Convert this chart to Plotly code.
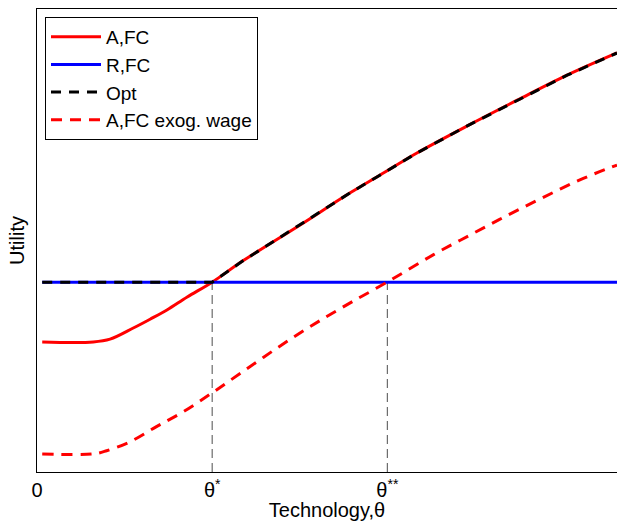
import plotly.graph_objects as go

# --- data ---
theta_star = 3.02
theta_2star = 6.04
r_fc_level = 4.10

afc_x = [0.09, 0.97, 1.26, 1.66, 1.95, 2.24, 2.59, 3.02, 3.55, 4.53, 5.40, 5.91, 6.55, 7.41, 8.28, 9.14, 10.0]
afc_y = [2.81, 2.81, 2.87, 3.11, 3.30, 3.50, 3.78, 4.10, 4.56, 5.33, 6.03, 6.41, 6.89, 7.47, 8.03, 8.57, 9.05]

rfc_x = [0.09, 10.0]
rfc_y = [r_fc_level, r_fc_level]

opt_x = [0.09, 3.02, 3.55, 4.53, 5.40, 5.91, 6.55, 7.41, 8.28, 9.14, 10.0]
opt_y = [4.10, 4.10, 4.56, 5.33, 6.03, 6.41, 6.89, 7.47, 8.03, 8.57, 9.05]

exo_x = [0.09, 0.97, 1.20, 1.60, 2.06, 2.52, 3.02, 3.55, 4.13, 4.71, 5.34, 6.05, 6.83, 7.47, 8.09, 8.71, 9.36, 10.0]
exo_y = [0.39, 0.39, 0.46, 0.65, 0.98, 1.30, 1.71, 2.17, 2.67, 3.14, 3.61, 4.11, 4.69, 5.12, 5.53, 5.92, 6.31, 6.63]

tick_vals = [0, theta_star, theta_2star]
tick_text = ["0", "θ<sup>*</sup>", "θ<sup>**</sup>"]

FONT = "Liberation Sans, Arial, Helvetica, sans-serif"

fig = go.Figure()

# guide lines at theta* and theta**
for tx in (theta_star, theta_2star):
    fig.add_trace(go.Scatter(x=[tx, tx], y=[0, r_fc_level], mode="lines",
                             line=dict(color="#4d4d4d", width=1, dash="9px,5px"),
                             showlegend=False, hoverinfo="skip"))

fig.add_trace(go.Scatter(x=afc_x, y=afc_y, mode="lines", name="A,FC",
                         line=dict(color="#ff0000", width=3, shape="spline", smoothing=1.0)))
fig.add_trace(go.Scatter(x=rfc_x, y=rfc_y, mode="lines", name="R,FC",
                         line=dict(color="#0000ff", width=3)))
fig.add_trace(go.Scatter(x=opt_x, y=opt_y, mode="lines", name="Opt",
                         line=dict(color="#000000", width=3, dash="10px,8px")))
fig.add_trace(go.Scatter(x=exo_x, y=exo_y, mode="lines", name="A,FC exog. wage",
                         line=dict(color="#ff0000", width=3, dash="11px,8px",
                                   shape="spline", smoothing=1.0)))

fig.update_layout(
    width=617, height=521,
    margin=dict(l=37, r=0, t=9, b=49),
    paper_bgcolor="white", plot_bgcolor="white",
    font=dict(family=FONT, size=19, color="black"),
    legend=dict(x=0.0138, y=0.983, xanchor="left", yanchor="top",
                bgcolor="white", bordercolor="black", borderwidth=1,
                font=dict(size=19), itemwidth=50, tracegroupgap=0),
    xaxis=dict(range=[0, 10], showgrid=False, zeroline=False,
               showline=True, linecolor="black", linewidth=1, mirror=True,
               ticks="", tickmode="array", tickvals=tick_vals, ticktext=tick_text,
               tickfont=dict(size=20),
               title=dict(text="Technology,θ", font=dict(size=20), standoff=2)),
    yaxis=dict(range=[0, 10], showgrid=False, zeroline=False,
               showline=True, linecolor="black", linewidth=1,
               showticklabels=False, ticks="",
               title=dict(text="Utility", font=dict(size=20), standoff=6)),
)

fig.write_html("out.html")
